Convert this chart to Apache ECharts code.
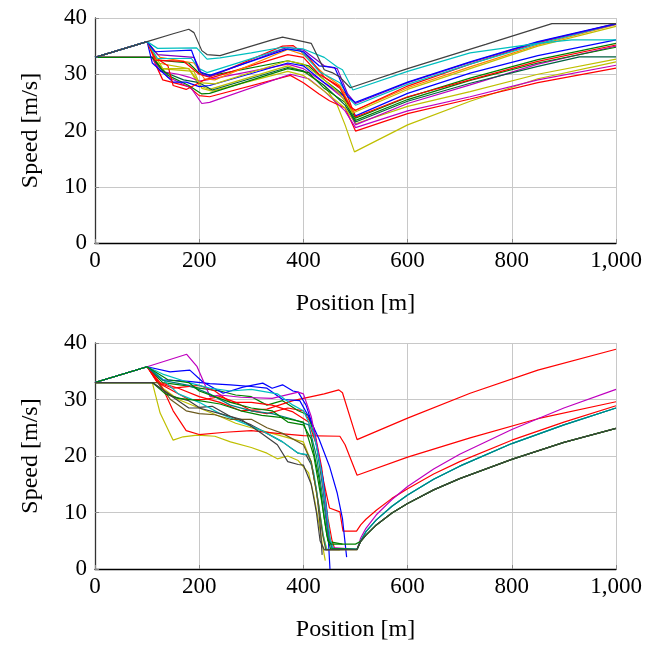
<!DOCTYPE html>
<html>
<head>
<meta charset="utf-8">
<script src="https://cdn.jsdelivr.net/npm/echarts@6/dist/echarts.min.js"></script>
<style>html,body{margin:0;padding:0;background:#fff}#c{width:661px;height:646px}</style>
</head>
<body>
<div id="c"></div>
<script>
// ---- axis ticks ----
const xTicks = [0, 200, 400, 600, 800, 1000];
const yTicks = [0, 10, 20, 30, 40];

// ---- top panel series (position m, speed m/s) ----
const topBlack = [[0,33],[100,35.8],[150,37.2],[180,38],[190,37.4],[205,34.2],[215,33.5],[240,33.3],[300,35],[340,36.1],[360,36.6],[400,35.8],[415,35.5],[440,30.8],[455,30.3],[470,29.5],[490,27.6],[600,31],[750,35.3],[877,39],[1000,39]];
const topCyan = [[0,33],[100,35.8],[120,34.6],[195,34.7],[215,32.7],[240,32.9],[300,33.8],[360,34.8],[400,34.5],[440,33],[465,31.3],[475,30.8],[495,27.2],[600,30.5],[720,33.8],[850,35.5],[915,36.1],[1000,36.1]];
const topBlue = [[0,33],[100,35.8],[115,34],[185,34.3],[200,30.5],[220,29.8],[370,34.5],[400,34],[430,31.5],[460,31.2],[485,26],[500,25],[600,28.6],[720,32.2],[850,35.8],[1000,39]];
const topPurple = [[0,33],[100,35.8],[120,33.5],[190,33],[205,30],[220,29.6],[370,34.8],[400,34.3],[440,31.5],[465,31],[485,26.5],[500,24.8],[600,28.5],[720,32.1],[850,35.7],[1000,38.9]];
const topRed = [[0,33],[100,35.8],[115,32.5],[170,32.3],[200,30],[220,29.5],[360,35],[380,35.1],[410,33],[440,29.5],[470,27.5],[490,24.2],[500,23.6],[600,27.9],[720,31.8],[850,35.6],[1000,39]];
const topOrange = [[0,33],[100,35.8],[125,33],[190,32],[210,29.2],[230,29],[370,34.4],[400,33.5],[440,30],[470,28],[495,23.4],[600,27.6],[720,31.3],[850,35.2],[1000,38.8]];
const topYellow = [[0,33],[100,35.8],[130,31],[180,31],[200,28.5],[230,28.3],[370,32.4],[400,31.8],[440,29],[470,26.5],[495,23.1],[600,27.3],[720,31],[850,35],[1000,38.5]];
const topTeal = [[0,33],[100,35.8],[120,32.8],[185,32.8],[200,31],[215,30.3],[360,34.5],[395,34.2],[430,30.5],[470,28.5],[490,25.5],[500,24.5],[600,28.2],[720,31.8],[850,35.4],[1000,38.9]];
const topBlue2 = [[0,33],[100,35.8],[110,32],[150,28.6],[175,28.6],[200,27.8],[220,28],[370,32],[400,31.5],[440,28.5],[480,26],[500,22.6],[600,26.6],[720,30.2],[850,33.3],[1000,36.1]];
const topGreen = [[0,33],[100,35.8],[120,32.5],[180,32],[200,30.2],[225,29.8],[370,32.4],[410,31.5],[440,29],[475,26.5],[500,22.2],[600,25.9],[720,29.3],[850,32.6],[1000,35.5]];
const topGreen2 = [[0,33],[110,33],[140,29.8],[180,28],[205,26.5],[220,26.6],[370,31],[410,30.3],[440,27.5],[480,25],[500,21.8],[600,25.5],[720,28.9],[850,32],[1000,34.8]];
const topGreen3 = [[0,33],[110,33],[130,30.5],[170,29],[200,28.5],[225,27.2],[370,31.2],[400,30.6],[440,28],[480,24.5],[500,21.5],[600,25.2],[720,28.4],[850,31.4],[930,33.1],[1000,33.1]];
const topMagenta = [[0,33],[110,33],[125,30.5],[160,30],[180,29.5],[200,28.8],[215,29],[370,31.8],[400,31],[440,28.5],[480,25.5],[500,21],[600,24.8],[720,28.1],[850,31.8],[1000,35]];
const topMagenta2 = [[0,33],[110,33],[140,29.5],[185,27.5],[205,24.8],[220,25],[375,30],[410,29.2],[440,27],[480,23.5],[500,20.5],[600,23.5],[720,26],[850,29],[1000,31.6]];
const topRed2 = [[0,33],[110,33],[130,29],[180,27.8],[200,26.2],[220,26],[375,29.8],[400,28.5],[430,26.5],[450,25.3],[480,24],[500,19.9],[600,23],[720,25.6],[850,28.5],[1000,31.1]];
const topYellow2 = [[0,33],[100,35.8],[120,32],[180,31],[200,28],[220,27.3],[370,31.5],[400,30.5],[440,28],[465,24.5],[480,21],[498,16.2],[600,21],[720,25.2],[850,29.2],[1000,32.2]];
const topYellow3 = [[0,33],[110,33],[125,31],[190,30.5],[205,27.5],[225,27],[370,30.5],[400,29.8],[440,27],[480,24],[500,21.2],[600,24.3],[720,26.9],[850,30],[1000,32.7]];
const topRed3 = [[0,33],[100,35.8],[115,33],[140,31.5],[150,28],[175,27.3],[190,28],[210,29],[370,33.5],[400,33],[430,30],[470,27.8],[485,26],[500,22.4],[600,26],[720,29],[850,32.3],[1000,35.2]];

// ---- bottom panel series ----
const botMagenta = [[0,33],[100,35.8],[176,38],[196,35.8],[221,30.5],[240,30.8],[280,30.4],[340,30.2],[390,31.3],[400,31],[415,27],[430,20],[440,13],[448,6],[455,3.8],[503,3.5],[510,5.5],[520,7.2],[540,9.6],[570,12.3],[600,14.6],[650,17.7],[700,20.3],[800,24.7],[900,28.5],[1000,31.8]];
const botBlue = [[0,33],[100,35.8],[144,34.9],[182,35.2],[207,33.1],[246,31.1],[284,32.2],[322,32.9],[340,32],[360,32.6],[380,31.5],[390,31.3],[405,29],[419,25.1],[438,15.7],[445,10],[451,0]];
const botBlue2 = [[0,33],[100,35.8],[130,33.5],[180,33.2],[220,32.8],[260,32.6],[300,32.3],[330,32],[360,30],[393,29.8],[410,27],[430,23],[450,18.2],[465,13.4],[475,8.9],[483,2.1]];
const botCyan = [[0,33],[100,35.8],[130,34.5],[180,33],[220,32],[260,31.5],[300,31.8],[350,31],[380,29],[400,28],[420,24],[435,17],[445,10],[452,5],[458,3.6],[503,3.5],[510,5],[520,6.6],[540,8.7],[570,11.1],[600,13.1],[650,15.9],[700,18.2],[800,22.2],[900,25.5],[1000,28.5]];
const botRedHigh = [[0,33],[100,35.8],[125,33],[160,32],[200,30.5],[240,29.5],[280,28],[330,28.3],[380,29.8],[440,31],[468,31.7],[475,31.2],[503,22.9],[600,26.7],[720,31.1],[850,35.2],[1000,38.9]];
const botRedMid = [[0,33],[100,35.8],[130,32],[150,28],[175,24.5],[200,23.8],[250,24.2],[300,24.5],[350,24],[400,23.6],[470,23.5],[480,22],[503,16.6],[600,19.8],[720,23.2],[850,26.6],[1000,29.6]];
const botRedLow = [[0,33],[100,35.8],[120,33],[150,32],[200,32.5],[230,31.5],[260,29.5],[300,29.5],[340,29],[380,27.8],[410,26],[425,22],[440,15],[450,10.8],[470,10.1],[476,6.7],[502,6.7],[510,7.8],[520,8.8],[540,10.4],[570,12.5],[600,14.2],[650,16.8],[700,19],[800,22.8],[900,26],[1000,28.9]];
const botGreen = [[0,33],[100,35.8],[140,33.5],[180,33],[200,31.5],[230,30.5],[260,29.5],[300,28.5],[340,28],[370,26],[400,25.5],[415,23],[430,16],[440,9],[447,5],[453,4.4],[500,4.4],[510,4.9],[520,6],[540,7.8],[570,9.9],[600,11.6],[650,14],[700,16],[800,19.4],[900,22.4],[1000,24.9]];
const botGreen2 = [[0,33],[110,33],[135,31],[160,30.2],[200,29.8],[240,29.2],[280,28],[320,27.2],[360,26.8],[400,26],[420,20],[435,12],[445,6],[452,3.6],[503,3.5],[510,4.9],[520,6],[540,7.8],[570,9.9],[600,11.6],[650,14],[700,16],[800,19.4],[900,22.4],[1000,24.9]];
const botBlack = [[0,33],[110,33],[150,30.5],[180,29.8],[200,28.6],[225,28.8],[260,27],[300,25.5],[330,24],[360,22.5],[390,20.5],[405,20.2],[415,18.5],[425,14],[432,8],[436,2.5]];
const botBlack2 = [[0,33],[110,33],[140,31],[180,28.5],[200,28.5],[240,27.5],[280,26.5],[320,24],[350,22],[370,19],[390,18.5],[400,18.4],[415,15],[425,10],[432,5],[440,3.4],[503,3.5],[510,4.9],[520,6],[540,7.8],[570,9.9],[600,11.6],[650,14],[700,16],[800,19.4],[900,22.4],[1000,24.9]];
const botYellow = [[0,33],[110,33],[125,27.6],[150,22.8],[169,23.4],[196,23.7],[230,23.5],[260,22.5],[300,21.5],[330,20.5],[350,19.5],[370,20],[390,19.2],[410,17],[420,13],[430,8],[437,4],[442,1.5]];
const botYellow2 = [[0,33],[100,35.8],[130,32],[160,30],[200,28.5],[240,27],[270,25.8],[300,25],[340,24],[380,23],[400,22.5],[415,19],[428,12],[438,6],[445,3.5],[470,3.4]];
const botCyan2 = [[0,33],[100,35.8],[125,34],[160,31],[200,29.5],[240,27.5],[280,26],[320,24.5],[360,22.5],[390,20.5],[410,20.2],[420,17],[430,11],[438,6],[444,3.5],[503,3.5],[510,5],[520,6.6],[540,8.7],[570,11.1],[600,13.1],[650,15.9],[700,18.2],[800,22.2],[900,25.5],[1000,28.5]];
const botTeal = [[0,33],[100,35.8],[130,33.4],[180,32.5],[220,31],[260,29],[300,28],[340,27.5],[380,26.5],[410,25.5],[425,20],[440,11],[448,5.5],[455,3.6],[503,3.5],[510,5],[520,6.6],[540,8.7],[570,11.1],[600,13.1],[650,15.9],[700,18.2],[800,22.2],[900,25.5],[1000,28.5]];
const botOlive = [[0,33],[120,33],[145,30],[175,28],[200,27.5],[230,27.3],[260,26.5],[300,26.5],[330,25],[360,24],[400,22],[415,19],[428,12],[437,6],[443,3.4],[503,3.4],[510,4.9],[520,6],[540,7.8],[570,9.9],[600,11.6],[650,14],[700,16],[800,19.4],[900,22.4],[1000,24.9]];
const botRed4 = [[0,33],[100,35.8],[120,33],[150,31.5],[180,30],[210,30],[240,30.5],[270,29.5],[300,28],[330,27.5],[370,28.5],[400,28],[420,25],[435,18],[447,9],[455,5],[460,3.6],[480,3.5]];
const botGreen3 = [[0,33],[100,35.8],[130,33],[170,32.5],[200,32],[240,31.5],[270,30.8],[300,30.5],[330,29],[360,29.8],[390,28],[410,27.2],[425,22],[438,14],[447,7],[452,4.8],[475,4.4]];

const C = {black:'#404040', cyan:'#00bfbf', blue:'#0000ff', purple:'#7f00bf', red:'#ff0000', orange:'#ff8000', yellow:'#bfbf00', teal:'#008080', green:'#008000', green3:'#006040', magenta:'#bf00bf', olive:'#6b5a1e'};

const topList = [
  [topYellow2, C.yellow],[topRed2, C.red],[topMagenta2, C.magenta],[topYellow3, C.yellow],[topMagenta, C.magenta],
  [topGreen3, C.green3],[topGreen2, C.green],[topGreen, C.green],[topBlue2, C.blue],[topRed3, C.red],
  [topYellow, C.yellow],[topOrange, C.orange],[topRed, C.red],[topTeal, C.cyan],[topPurple, C.purple],
  [topBlue, C.blue],[topCyan, C.cyan],[topBlack, C.black]
];
const botList = [
  [botYellow, C.yellow],[botYellow2, C.yellow],[botBlack, C.black],[botRed4, C.red],[botGreen3, C.green],
  [botRedMid, C.red],[botRedHigh, C.red],[botRedLow, C.red],[botBlue, C.blue],[botBlue2, C.blue],
  [botMagenta, C.magenta],[botCyan, C.cyan],[botCyan2, C.cyan],[botTeal, C.teal],
  [botOlive, C.olive],[botGreen, C.green],[botGreen2, C.green],[botBlack2, C.black]
];

const font = 'Liberation Serif';
function xAxis(gi){
  return {gridIndex:gi, type:'value', min:xTicks[0], max:xTicks[xTicks.length-1], interval:xTicks[1]-xTicks[0],
    name:'Position [m]', nameLocation:'middle', nameGap:49,
    nameTextStyle:{fontFamily:font, fontSize:24, color:'#000'},
    axisLine:{show:true, onZero:false, lineStyle:{color:'#000', width:1.3}},
    axisTick:{show:true, inside:true, length:4, lineStyle:{color:'#888'}},
    axisLabel:{fontFamily:font, fontSize:23, color:'#000', margin:6, formatter:v=>v>=1000?v.toLocaleString('en-US'):String(v)},
    splitLine:{show:true, lineStyle:{color:'#c8c8c8', width:1}}};
}
function yAxis(gi){
  return {gridIndex:gi, type:'value', min:yTicks[0], max:yTicks[yTicks.length-1], interval:yTicks[1]-yTicks[0],
    name:'Speed [m/s]', nameLocation:'middle', nameGap:52, nameRotate:90,
    nameTextStyle:{fontFamily:font, fontSize:24, color:'#000'},
    axisLine:{show:true, onZero:false, lineStyle:{color:'#333', width:1.3}},
    axisTick:{show:true, inside:true, length:4, lineStyle:{color:'#888'}},
    axisLabel:{fontFamily:font, fontSize:23, color:'#000', margin:8},
    splitLine:{show:true, lineStyle:{color:'#c8c8c8', width:1}}};
}
function mk(list, gi){
  return list.map(([d,c],i)=>({type:'line', xAxisIndex:gi, yAxisIndex:gi, data:d, showSymbol:false, symbol:'none',
    lineStyle:{color:c, width:1.2}, itemStyle:{color:c}, z:2+i, silent:true}));
}
const chart = echarts.init(document.getElementById('c'), null, {renderer:'canvas'});
chart.setOption({
  animation:false,
  backgroundColor:'#fff',
  grid:[{left:95, right:45, top:18, height:225}, {left:95, right:45, top:343, height:226}],
  xAxis:[xAxis(0), xAxis(1)],
  yAxis:[yAxis(0), yAxis(1)],
  series:[...mk(topList,0), ...mk(botList,1)]
});
</script>
</body>
</html>
